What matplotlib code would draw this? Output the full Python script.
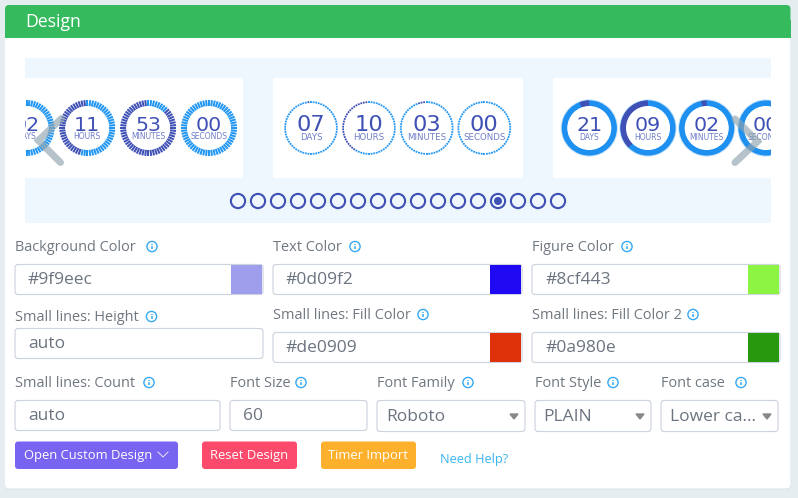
"""Design panel screenshot redrawn in matplotlib, working in pixel coordinates."""
import numpy as np
import matplotlib
matplotlib.use('Agg')
import matplotlib.pyplot as plt
from matplotlib.collections import LineCollection
from matplotlib.patches import Circle, FancyBboxPatch, Rectangle, Wedge

# countdown cards
units = ['DAYS', 'HOURS', 'MINUTES', 'SECONDS']
unit_max = [365, 24, 60, 60]
card1_values = [2, 11, 53, 0]
card2_values = [7, 10, 3, 0]
card3_values = [21, 9, 2, 0]

# form fields
color_labels = ['Background Color', 'Text Color', 'Figure Color']
color_values = ['#9f9eec', '#0d09f2', '#8cf443']
color_swatches = ['#9f9eec', '#1f09f2', '#8cf443']
fill_labels = ['Small lines: Fill Color', 'Small lines: Fill Color 2']
fill_values = ['#de0909', '#0a980e']
fill_swatches = ['#de3009', '#28980e']
height_label, height_value = 'Small lines: Height', 'auto'
row3_labels = ['Small lines: Count', 'Font Size', 'Font Family', 'Font Style', 'Font case']
row3_values = ['auto', '60', 'Roboto', 'PLAIN', 'Lower ca...']
button_labels = ['Open Custom Design', 'Reset Design', 'Timer Import']
help_label = 'Need Help?'
slide_count = 17
active_slide = 13

LIGHT = '#2196f3'
DARK = '#3f51b5'
GRAY = '#6f7780'
BORDER = '#ced4de'
FONT = 'Open Sans'

fig = plt.figure(figsize=(7.98, 4.98), dpi=100, facecolor='#e6edf1')
ax = fig.add_axes([0, 0, 1, 1])
ax.set_xlim(0, 798)
ax.set_ylim(498, 0)
ax.axis('off')


def px(size):
    return size * 0.72


def round_box(x0, y0, x1, y1, face, edge='none', r=3, lw=1.0, z=2):
    box = FancyBboxPatch((x0, y0), x1 - x0, y1 - y0, boxstyle=f'round,pad=0,rounding_size={r}',
                         fc=face, ec=edge, lw=lw, zorder=z)
    ax.add_patch(box)


def label(x, y, s, size=14.5, color=GRAY, ha='left', font=FONT, z=5, clip=None):
    t = ax.text(x, y, s, fontsize=px(size), color=color, ha=ha, va='center', family=font, zorder=z)
    if clip is not None:
        t.set_clip_path(clip)
        t.set_clip_on(True)
    return t


def info(x, y):
    ax.add_patch(Circle((x, y), 5.1, fc='white', ec='#36a9f0', lw=1.0, zorder=5))
    ax.plot([x, x], [y - 0.5, y + 2.8], color='#36a9f0', lw=1.1, zorder=6, solid_capstyle='butt')
    ax.plot([x, x], [y - 3, y - 1.8], color='#36a9f0', lw=1.1, zorder=6, solid_capstyle='butt')


def field(x0, y0, x1, y1, s, swatch=None, arrow=False, tx=13):
    round_box(x0, y0, x1, y1, 'white', BORDER, r=3, lw=0.85)
    label(x0 + tx, (y0 + y1) / 2 + 0.8, s, size=17.4, color='#6b7480')
    if swatch:
        ax.add_patch(Rectangle((x1 - 32, y0 + 0.6), 31.4, y1 - y0 - 1.2, fc=swatch, ec='none', zorder=3))
    if arrow:
        ax_x = x1 - 11
        ym = (y0 + y1) / 2 + 0.5
        ax.fill([ax_x - 4, ax_x + 4, ax_x], [ym - 2.5, ym - 2.5, ym + 2.5], color='#888888', zorder=4)


def ticks(cx, cy, r0, r1, n, lw, frac, clip):
    # segments run clockwise from 12 o'clock, the elapsed part sits left of the top
    ang = np.arange(n) / n * 2 * np.pi
    segs = [[(cx + r0 * np.sin(a), cy - r0 * np.cos(a)), (cx + r1 * np.sin(a), cy - r1 * np.cos(a))] for a in ang]
    colors = [DARK if a >= 2 * np.pi * (1 - frac) else LIGHT for a in ang]
    lc = LineCollection(segs, colors=colors, linewidths=lw, zorder=4, capstyle='butt')
    ax.add_collection(lc)
    lc.set_clip_path(clip)


def draw_numbers(cx, cy, val, unit, num_size, unit_size, num_dy, unit_dy, clip):
    label(cx, cy + num_dy, f'{val:02d}', size=num_size, color=DARK, ha='center', font='DejaVu Sans', clip=clip)
    label(cx, cy + unit_dy, unit, size=unit_size, color='#6f7cc9', ha='center', font='DejaVu Sans', clip=clip)


# page card and header
round_box(5, 6, 791, 489.5, '#d9e1e6', r=4, z=0.5)
round_box(5, 5, 790.5, 488.5, 'white', r=4, z=1)
round_box(5, 5, 790.5, 36, '#35bb5e', r=4, z=1.5)
ax.add_patch(Rectangle((5, 20), 785.5, 18, fc='#35bb5e', ec='none', zorder=1.6))
label(25, 22, 'Design', size=17.6, color='white')

# carousel
strip = Rectangle((25, 58), 746, 165, fc='#eff7fe', ec='none', zorder=2)
ax.add_patch(strip)
clip = Rectangle((25, 58), 746, 165, transform=ax.transData)
for x0, x1 in [(25, 243), (273, 523), (553, 771)]:
    ax.add_patch(Rectangle((x0, 78), x1 - x0, 100, fc='white', ec='none', zorder=3))

# first card, radial ticks
for cx, val, unit, vmax in zip([26.5, 87.3, 148.2, 209], card1_values, units, unit_max):
    ticks(cx, 128, 22, 28, 60, 1.45, val / vmax, clip)
    draw_numbers(cx, 128, val, unit, 20.5, 7.6, -3, 8.5, clip)

# second card, dotted rings
for cx, val, unit, vmax in zip([311, 369, 426.7, 484.3], card2_values, units, unit_max):
    ticks(cx, 128, 25, 26.8, 62, 1.3, val / vmax, clip)
    draw_numbers(cx, 128, val, unit, 22.5, 8.6, -3.5, 9, clip)

# third card, solid rings
for cx, val, unit, vmax in zip([589.3, 648, 706.7, 766], card3_values, units, unit_max):
    frac = val / vmax
    halo = Circle((cx, 128), 28.6, fc='#c4e2fb', ec='none', zorder=3.5)
    ring = Wedge((cx, 128), 27.6, 0, 360, width=6, fc='#1e90f0', ec='none', zorder=4)
    # y axis is flipped, so 270 degrees is the top of the ring
    part = Wedge((cx, 128), 27.6, 270 - 360 * frac, 270, width=6, fc=DARK, ec='none', zorder=4.1)
    inner = Circle((cx, 128), 22, fc='white', ec='none', zorder=4.2)
    for p in (halo, ring, part, inner):
        ax.add_patch(p)
        p.set_clip_path(clip)
    draw_numbers(cx, 128, val, unit, 20.5, 7.6, -2.5, 9, clip)

# carousel arrows
arrow_style = dict(color='#90a4ae', alpha=0.65, lw=px(7), solid_capstyle='round', solid_joinstyle='miter', zorder=7)
ax.plot([61.5, 38.5, 60.5], [118.5, 140.5, 162.5], **arrow_style)
ax.plot([735, 757.5, 735], [119, 141.5, 162.5], **arrow_style)

# pagination dots
for i in range(slide_count):
    x = 238 + 20 * i
    ax.add_patch(Circle((x, 201), 7.1, fc='none', ec=DARK, lw=px(2.1), zorder=4))
    if i == active_slide:
        ax.add_patch(Circle((x, 201), 4, fc=DARK, ec='none', zorder=4))

# colour row
for x0, x1, s, v, c, ix in zip([15, 273, 532], [263, 522, 780], color_labels, color_values, color_swatches, [152, 355, 627]):
    label(x0, 247, s)
    info(ix, 246.5)
    field(x0, 264.5, x1, 294.5, v, swatch=c)

# second row
label(15, 317, height_label)
info(151.5, 316.5)
field(15, 328.5, 263, 358.5, height_value)
for x0, x1, s, v, c, ix in zip([273, 532], [522, 780], fill_labels, fill_values, fill_swatches, [423, 693]):
    label(x0, 315, s)
    info(ix, 314.5)
    field(x0, 332.5, x1, 362.5, v, swatch=c)

# third row
for x0, s, ix in zip([15, 230, 377, 535, 661], row3_labels, [149, 301, 468, 613, 741]):
    label(x0, 383, s)
    info(ix, 382.5)
field(15, 400.5, 220, 430.5, row3_values[0])
field(230, 400.5, 367, 430.5, row3_values[1])
field(377, 400.5, 525, 431.5, row3_values[2], arrow=True, tx=9)
field(535, 400.5, 651, 431.5, row3_values[3], arrow=True, tx=8)
field(661, 400.5, 778, 431.5, row3_values[4], arrow=True, tx=9)

# buttons
for x0, x1, s, c in zip([15, 202, 321], [178, 297, 416], button_labels, ['#7764f0', '#fc4a6d', '#fdb02c']):
    round_box(x0, 441.5, x1, 469, c, r=3, z=3)
label(24, 455.5, button_labels[0], size=13, color='white')
label(249.5, 455.5, button_labels[1], size=13, color='white', ha='center')
label(368.5, 455.5, button_labels[2], size=13, color='white', ha='center')
ax.plot([158, 163, 168], [452, 457, 452], color='#e8e4fd', lw=0.7, zorder=5)
label(440, 459, help_label, size=12.8, color='#38b6f2')

fig.savefig('out.png', dpi=100, facecolor=fig.get_facecolor())
